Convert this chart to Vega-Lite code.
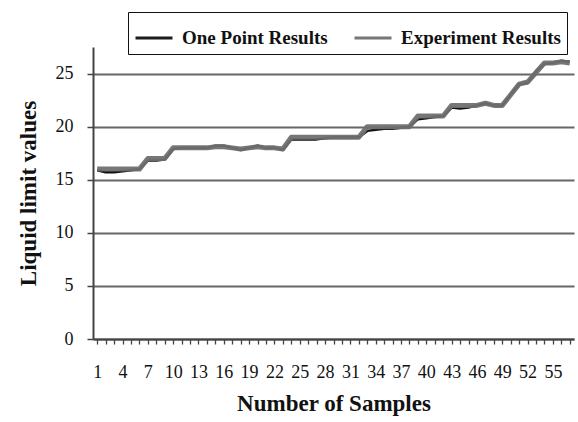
{
  "$schema": "https://vega.github.io/schema/vega-lite/v6.json",
  "width": 481,
  "height": 292,
  "autosize": {"type": "none"},
  "padding": {"left": 93, "top": 47, "right": 4, "bottom": 83},
  "background": "white",
  "data": {"values": [
    {"sample":1,"series":"One Point Results","value":15.9},{"sample":2,"series":"One Point Results","value":15.7},{"sample":3,"series":"One Point Results","value":15.7},{"sample":4,"series":"One Point Results","value":15.8},{"sample":5,"series":"One Point Results","value":15.9},{"sample":6,"series":"One Point Results","value":16},{"sample":7,"series":"One Point Results","value":16.8},{"sample":8,"series":"One Point Results","value":16.8},{"sample":9,"series":"One Point Results","value":16.9},{"sample":10,"series":"One Point Results","value":17.9},
    {"sample":11,"series":"One Point Results","value":18},{"sample":12,"series":"One Point Results","value":18},{"sample":13,"series":"One Point Results","value":18},{"sample":14,"series":"One Point Results","value":18},{"sample":15,"series":"One Point Results","value":18.2},{"sample":16,"series":"One Point Results","value":18.2},{"sample":17,"series":"One Point Results","value":18},{"sample":18,"series":"One Point Results","value":17.8},{"sample":19,"series":"One Point Results","value":18},{"sample":20,"series":"One Point Results","value":18.2},
    {"sample":21,"series":"One Point Results","value":18},{"sample":22,"series":"One Point Results","value":18},{"sample":23,"series":"One Point Results","value":17.8},{"sample":24,"series":"One Point Results","value":18.8},{"sample":25,"series":"One Point Results","value":18.8},{"sample":26,"series":"One Point Results","value":18.8},{"sample":27,"series":"One Point Results","value":18.8},{"sample":28,"series":"One Point Results","value":18.9},{"sample":29,"series":"One Point Results","value":19},{"sample":30,"series":"One Point Results","value":19},
    {"sample":31,"series":"One Point Results","value":19},{"sample":32,"series":"One Point Results","value":19},{"sample":33,"series":"One Point Results","value":19.6},{"sample":34,"series":"One Point Results","value":19.7},{"sample":35,"series":"One Point Results","value":19.8},{"sample":36,"series":"One Point Results","value":19.8},{"sample":37,"series":"One Point Results","value":19.9},{"sample":38,"series":"One Point Results","value":20},{"sample":39,"series":"One Point Results","value":20.7},{"sample":40,"series":"One Point Results","value":20.8},
    {"sample":41,"series":"One Point Results","value":20.9},{"sample":42,"series":"One Point Results","value":21},{"sample":43,"series":"One Point Results","value":21.8},{"sample":44,"series":"One Point Results","value":21.7},{"sample":45,"series":"One Point Results","value":21.8},{"sample":46,"series":"One Point Results","value":22},{"sample":47,"series":"One Point Results","value":22.2},{"sample":48,"series":"One Point Results","value":22},{"sample":49,"series":"One Point Results","value":22},{"sample":50,"series":"One Point Results","value":23},
    {"sample":51,"series":"One Point Results","value":24},{"sample":52,"series":"One Point Results","value":24.1},{"sample":53,"series":"One Point Results","value":25.2},{"sample":54,"series":"One Point Results","value":25.9},{"sample":55,"series":"One Point Results","value":26},{"sample":56,"series":"One Point Results","value":26.2},{"sample":57,"series":"One Point Results","value":26.1},
    {"sample":1,"series":"Experiment Results","value":16},{"sample":2,"series":"Experiment Results","value":16},{"sample":3,"series":"Experiment Results","value":16},{"sample":4,"series":"Experiment Results","value":16},{"sample":5,"series":"Experiment Results","value":16},{"sample":6,"series":"Experiment Results","value":16},{"sample":7,"series":"Experiment Results","value":17},{"sample":8,"series":"Experiment Results","value":17},{"sample":9,"series":"Experiment Results","value":17},{"sample":10,"series":"Experiment Results","value":18},
    {"sample":11,"series":"Experiment Results","value":18},{"sample":12,"series":"Experiment Results","value":18},{"sample":13,"series":"Experiment Results","value":18},{"sample":14,"series":"Experiment Results","value":18},{"sample":15,"series":"Experiment Results","value":18.1},{"sample":16,"series":"Experiment Results","value":18.1},{"sample":17,"series":"Experiment Results","value":18},{"sample":18,"series":"Experiment Results","value":17.9},{"sample":19,"series":"Experiment Results","value":18},{"sample":20,"series":"Experiment Results","value":18.1},
    {"sample":21,"series":"Experiment Results","value":18},{"sample":22,"series":"Experiment Results","value":18},{"sample":23,"series":"Experiment Results","value":17.9},{"sample":24,"series":"Experiment Results","value":19},{"sample":25,"series":"Experiment Results","value":19},{"sample":26,"series":"Experiment Results","value":19},{"sample":27,"series":"Experiment Results","value":19},{"sample":28,"series":"Experiment Results","value":19},{"sample":29,"series":"Experiment Results","value":19},{"sample":30,"series":"Experiment Results","value":19},
    {"sample":31,"series":"Experiment Results","value":19},{"sample":32,"series":"Experiment Results","value":19},{"sample":33,"series":"Experiment Results","value":20},{"sample":34,"series":"Experiment Results","value":20},{"sample":35,"series":"Experiment Results","value":20},{"sample":36,"series":"Experiment Results","value":20},{"sample":37,"series":"Experiment Results","value":20},{"sample":38,"series":"Experiment Results","value":20},{"sample":39,"series":"Experiment Results","value":21},{"sample":40,"series":"Experiment Results","value":21},
    {"sample":41,"series":"Experiment Results","value":21},{"sample":42,"series":"Experiment Results","value":21},{"sample":43,"series":"Experiment Results","value":22},{"sample":44,"series":"Experiment Results","value":22},{"sample":45,"series":"Experiment Results","value":22},{"sample":46,"series":"Experiment Results","value":22},{"sample":47,"series":"Experiment Results","value":22.2},{"sample":48,"series":"Experiment Results","value":22},{"sample":49,"series":"Experiment Results","value":22},{"sample":50,"series":"Experiment Results","value":23},
    {"sample":51,"series":"Experiment Results","value":24},{"sample":52,"series":"Experiment Results","value":24.2},{"sample":53,"series":"Experiment Results","value":25.1},{"sample":54,"series":"Experiment Results","value":26},{"sample":55,"series":"Experiment Results","value":26},{"sample":56,"series":"Experiment Results","value":26.1},{"sample":57,"series":"Experiment Results","value":26}
  ]},
  "encoding": {
    "x": {
      "field": "sample", "type": "quantitative",
      "scale": {"domain": [0.5, 57.5], "nice": false, "zero": false},
      "axis": {
        "values": [1,2,3,4,5,6,7,8,9,10,11,12,13,14,15,16,17,18,19,20,21,22,23,24,25,26,27,28,29,30,31,32,33,34,35,36,37,38,39,40,41,42,43,44,45,46,47,48,49,50,51,52,53,54,55,56,57],
        "labelExpr": "(datum.value - 1) % 3 === 0 ? datum.label : ''",
        "labelOverlap": false, "labelFlush": false, "labelBound": false,
        "grid": false, "tickSize": 5, "tickColor": "#444444", "tickWidth": 1.3,
        "domainColor": "#444444", "domainWidth": 2,
        "labelPadding": 19, "labelFont": "Liberation Serif", "labelFontSize": 18, "labelColor": "#111111",
        "title": "Number of Samples", "titleFont": "Liberation Serif", "titleFontSize": 23, "titleFontWeight": "bold", "titleColor": "#111111", "titlePadding": 11
      }
    },
    "y": {
      "field": "value", "type": "quantitative",
      "scale": {"domain": [0, 27.5], "nice": false},
      "axis": {
        "values": [0,5,10,15,20,25],
        "grid": true, "gridColor": "#666666", "gridWidth": 1.8,
        "tickSize": 6, "tickColor": "#444444", "tickWidth": 1.5,
        "domainColor": "#444444", "domainWidth": 2,
        "labelPadding": 14, "labelFont": "Liberation Serif", "labelFontSize": 18, "labelColor": "#111111",
        "title": "Liquid limit values", "titleFont": "Liberation Serif", "titleFontSize": 23, "titleFontWeight": "bold", "titleColor": "#111111", "titlePadding": 15
      }
    },
    "color": {
      "field": "series", "type": "nominal",
      "scale": {"domain": ["One Point Results", "Experiment Results"], "range": ["#111111", "#707070"]},
      "legend": {
        "title": null, "orient": "none", "legendX": 35, "legendY": -35, "direction": "horizontal",
        "padding": 6, "strokeColor": "#111111", "fillColor": "white",
        "symbolType": "stroke", "symbolSize": 1369, "symbolStrokeWidth": 3,
        "labelFont": "Liberation Serif", "labelFontSize": 19, "labelFontWeight": "bold", "labelColor": "#111111",
        "labelOffset": 8, "columnPadding": 20, "labelLimit": 400
      }
    }
  },
  "layer": [
    {"transform": [{"filter": "datum.series === 'One Point Results'"}], "mark": {"type": "line", "strokeWidth": 2.5, "strokeJoin": "round"}},
    {"transform": [{"filter": "datum.series === 'Experiment Results'"}], "mark": {"type": "line", "strokeWidth": 5, "strokeJoin": "round", "opacity": 0.95}}
  ],
  "config": {"view": {"stroke": null}}
}
